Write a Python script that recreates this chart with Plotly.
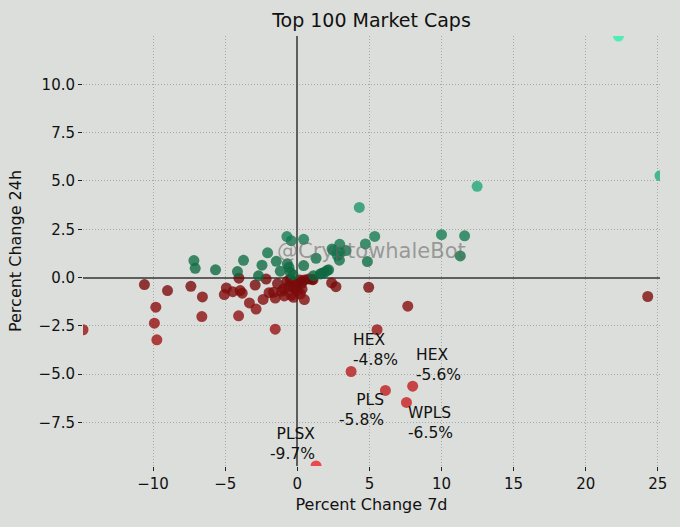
import plotly.graph_objects as go

# ---- data (7d change, 24h change) ----
up_x = [22.27, 25.15, 12.47, 4.30, 10.00, 11.60, 11.30, 5.37, 4.72, 4.86,
        2.94, 2.52, 3.38, 2.78, 2.92, 1.30, 0.44, 2.17, 1.88, 1.13,
        -0.72, -0.42, 0.44, -2.06, -1.46, -0.69, -0.58, -1.18, -0.49, -2.45,
        -2.69, -3.73, -4.15, -5.67, -7.17, -7.08, -0.30, 1.71, 2.06,
        1.60, 2.41, 2.99]
up_y = [12.50, 5.27, 4.72, 3.63, 2.22, 2.16, 1.12, 2.13, 1.74, 0.83,
        1.72, 1.40, 1.40, 1.14, 0.90, 1.00, 0.62, 0.40, 0.27, 0.10,
        2.12, 1.91, 1.98, 1.28, 0.84, 0.71, 0.53, 0.33, 0.27, 0.64,
        0.09, 0.89, 0.31, 0.40, 0.88, 0.48, 0.15, 0.22, 0.36,
        0.19, 1.48, 1.31]

down_x = [-14.86, -10.60, -9.00, -7.38, -6.58, -9.81, -9.91, -9.74, -6.62, -4.07,
          -1.53, -4.05, -4.92, -5.06, -4.47, -3.96, -3.82, -2.92, -3.32, -2.86,
          -2.37, -2.16, -1.96, -1.53, -1.37, -1.08, -0.70, -0.49, -0.30, -0.43,
          -0.26, -0.02, 0.18, 0.49, 0.33, 0.21, 0.49, 1.09, 2.38, 2.68,
          1.02, 4.95, 7.66, 24.30, 5.53, -0.60, 0.00, -0.90, 0.30,
          0.79, -0.14, -0.95, -1.65,
          3.73, 8.00, 6.11, 7.57, 1.30]
down_y = [-2.70, -0.36, -0.67, -0.45, -1.00, -1.53, -2.36, -3.22, -2.02, -1.98,
          -2.67, -0.03, -0.54, -0.88, -0.73, -0.67, -0.81, -0.39, -1.31, -1.63,
          -1.13, -0.08, -0.78, -1.06, -0.31, -0.71, -0.19, -0.08, -0.50, -0.92,
          -1.02, -0.33, -0.13, -0.12, -0.60, -0.84, -1.14, -0.11, -0.28, -0.47,
          -0.09, -0.50, -1.48, -0.98, -2.70, -0.45, -0.70, -0.95, -0.30,
          -0.07, -0.50, -0.58, -0.76,
          -4.86, -5.62, -5.84, -6.46, -9.75]

label_names = ["HEX", "HEX", "PLS", "WPLS", "PLSX"]
label_pct = ["-4.8%", "-5.6%", "-5.8%", "-6.5%", "-9.7%"]
# position of each two-line label block (data units) and its anchor side
label_x = [3.82, 8.13, 6.11, 7.64, 1.27]
label_y = [-3.75, -4.52, -6.85, -7.50, -8.63]
label_side = ["left", "left", "right", "left", "right"]

x_ticks = [-10, -5, 0, 5, 10, 15, 20, 25]
y_ticks = [-7.5, -5.0, -2.5, 0.0, 2.5, 5.0, 7.5, 10.0]

BG = "#dcdedb"
FONT = "DejaVu Sans, sans-serif"
INK = "#111111"

fig = go.Figure()
fig.add_trace(go.Scatter(
    x=down_x, y=down_y, mode="markers",
    marker=dict(size=11, color=down_y, cmin=-9.7, cmax=0,
                colorscale=[[0, "#ea2628"], [0.5, "#b81b1d"], [1, "#730909"]],
                opacity=0.8, line=dict(width=0)),
    hoverinfo="x+y", showlegend=False))
fig.add_trace(go.Scatter(
    x=up_x, y=up_y, mode="markers",
    marker=dict(size=11, color=up_y, cmin=0, cmax=12.5,
                colorscale=[[0, "#0d663e"], [0.18, "#167e55"], [0.4, "#22ac7e"], [1, "#2ff0aa"]],
                opacity=0.8, line=dict(width=0)),
    hoverinfo="x+y", showlegend=False))

for i in range(len(label_names)):
    fig.add_annotation(
        x=label_x[i], y=label_y[i],
        text=label_names[i] + "<br>" + label_pct[i],
        showarrow=False, xanchor=label_side[i], yanchor="middle",
        align=label_side[i], borderpad=0,
        font=dict(size=15.5, color=INK, family=FONT))

fig.add_annotation(
    x=0.5, y=0.5, xref="paper", yref="paper", text="@CryptowhaleBot",
    showarrow=False, font=dict(size=21, color="rgba(105,105,105,0.6)", family=FONT))

axis_common = dict(
    showgrid=True, gridcolor="#a8a8a8", griddash="1px,2px", gridwidth=1,
    zeroline=True, zerolinecolor="#5e5e5e", zerolinewidth=2,
    showline=False, ticks="outside", ticklen=4, tickwidth=1.3, tickcolor="#222222",
    tickfont=dict(size=15, color=INK, family=FONT),
)

fig.update_layout(
    width=680, height=527,
    margin=dict(l=83, r=20, t=36, b=61, autoexpand=False),
    paper_bgcolor=BG, plot_bgcolor=BG,
    title=dict(text="Top 100 Market Caps", xref="paper", x=0.5, xanchor="center",
               y=0.962, yanchor="middle", font=dict(size=19, color=INK, family=FONT)),
    xaxis=dict(range=[-14.86, 25.15], tickvals=x_ticks,
               ticktext=[str(v).replace("-", "\u2212") for v in x_ticks],
               title=dict(text="Percent Change 7d", standoff=6,
                          font=dict(size=16, color=INK, family=FONT)),
               **axis_common),
    yaxis=dict(range=[-9.75, 12.5], tickvals=y_ticks,
               ticktext=[f"{v:.1f}".replace("-", "\u2212") for v in y_ticks],
               title=dict(text="Percent Change 24h", standoff=12,
                          font=dict(size=16, color=INK, family=FONT)),
               **axis_common),
    font=dict(family=FONT),
)

fig.write_html(
    "out.html",
    config={"displayModeBar": False},
    post_script="document.body.style.margin='0';document.body.style.background='" + BG + "';",
)
